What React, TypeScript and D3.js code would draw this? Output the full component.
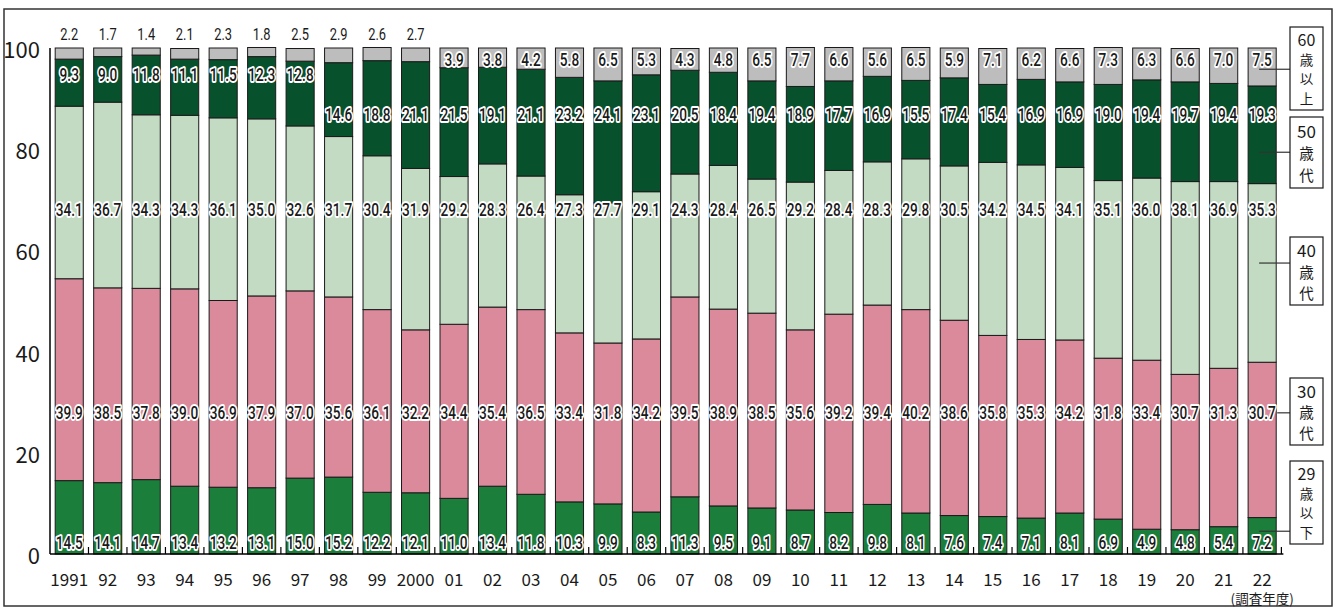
import React from 'react';
import * as d3 from 'd3';

// ---------------- data ----------------
const years = ['1991', '92', '93', '94', '95', '96', '97', '98', '99', '2000', '01', '02', '03', '04', '05', '06', '07', '08', '09', '10', '11', '12', '13', '14', '15', '16', '17', '18', '19', '20', '21', '22'];
const under29 = [14.5, 14.1, 14.7, 13.4, 13.2, 13.1, 15.0, 15.2, 12.2, 12.1, 11.0, 13.4, 11.8, 10.3, 9.9, 8.3, 11.3, 9.5, 9.1, 8.7, 8.2, 9.8, 8.1, 7.6, 7.4, 7.1, 8.1, 6.9, 4.9, 4.8, 5.4, 7.2];
const age30s = [39.9, 38.5, 37.8, 39.0, 36.9, 37.9, 37.0, 35.6, 36.1, 32.2, 34.4, 35.4, 36.5, 33.4, 31.8, 34.2, 39.5, 38.9, 38.5, 35.6, 39.2, 39.4, 40.2, 38.6, 35.8, 35.3, 34.2, 31.8, 33.4, 30.7, 31.3, 30.7];
const age40s = [34.1, 36.7, 34.3, 34.3, 36.1, 35.0, 32.6, 31.7, 30.4, 31.9, 29.2, 28.3, 26.4, 27.3, 27.7, 29.1, 24.3, 28.4, 26.5, 29.2, 28.4, 28.3, 29.8, 30.5, 34.2, 34.5, 34.1, 35.1, 36.0, 38.1, 36.9, 35.3];
const age50s = [9.3, 9.0, 11.8, 11.1, 11.5, 12.3, 12.8, 14.6, 18.8, 21.1, 21.5, 19.1, 21.1, 23.2, 24.1, 23.1, 20.5, 18.4, 19.4, 18.9, 17.7, 16.9, 15.5, 17.4, 15.4, 16.9, 16.9, 19.0, 19.4, 19.7, 19.4, 19.3];
const over60 = [2.2, 1.7, 1.4, 2.1, 2.3, 1.8, 2.5, 2.9, 2.6, 2.7, 3.9, 3.8, 4.2, 5.8, 6.5, 5.3, 4.3, 4.8, 6.5, 7.7, 6.6, 5.6, 6.5, 5.9, 7.1, 6.2, 6.6, 7.3, 6.3, 6.6, 7.0, 7.5];
const seriesKeys = ['u29', 'a30', 'a40', 'a50', 'o60'];
const seriesNames = ['29歳以下', '30歳代', '40歳代', '50歳代', '60歳以上'];
const legendLabels = [
  ['29', '歳', '以', '下'],
  ['30', '歳', '代'],
  ['40', '歳', '代'],
  ['50', '歳', '代'],
  ['60', '歳', '以', '上'],
];
const yTicks = [0, 20, 40, 60, 80, 100];
const xAxisTitle = '(調査年度)';

// ---------------- layout / style ----------------
const W = 1336;
const H = 610;
const colors = ['#1b7f3b', '#db8a9c', '#c3dbc3', '#07522c', '#bdbdbd'];
const labelFont = 'Roboto, "Liberation Sans", sans-serif';
const sans = '"Noto Sans CJK JP", "Noto Sans", sans-serif';

// label rows (in value units) per series
const rowU29 = 2.2;
const row30 = 27.9;
const row40 = 68.0;
const row50Early = 94.7;
const row50Late = 86.8;
const row60Inside = 97.6;
const row60Above = 102.6;

// legend boxes (pixel layout) and leader-line y (value units)
const legendBoxes = [
  { top: 461, bottom: 544, lead: 4.5 },
  { top: 378, bottom: 445, lead: 27.9 },
  { top: 237, bottom: 305, lead: 57.5 },
  { top: 117, bottom: 188, lead: 79.4 },
  { top: 27, bottom: 110, lead: 95.8 },
];

export default function App() {
  const table = years.map((yr, i) => ({
    year: yr,
    u29: under29[i],
    a30: age30s[i],
    a40: age40s[i],
    a50: age50s[i],
    o60: over60[i],
  }));
  const stacked = d3.stack<any>().keys(seriesKeys)(table);

  const x = d3.scaleBand<string>().domain(years).range([50, 1281.4]).paddingInner(0.27).paddingOuter(0.135);
  const y = d3.scaleLinear().domain([0, 100]).range([554, 48]);
  const step = x.step();
  const bw = x.bandwidth();
  const x0 = x.range()[0];

  const labelRow = (si: number, i: number) => {
    if (si === 0) return rowU29;
    if (si === 1) return row30;
    if (si === 2) return row40;
    if (si === 3) return i <= 6 ? row50Early : row50Late;
    return i <= 9 ? row60Above : row60Inside;
  };

  const lastYear = years[years.length - 1];
  const lastX = x(lastYear)!;

  return (
    <svg width={W} height={H} style={{ position: 'absolute', left: 0, top: 0, background: '#fff' }}>
      {/* frame */}
      <rect x={4} y={9} width={1328} height={597} fill="none" stroke="#333" strokeWidth={1.5} />

      {/* bars */}
      {stacked.map((s, si) => (
        <g key={seriesKeys[si]}>
          {s.map((d, i) => (
            <rect
              key={years[i]}
              x={x(years[i])}
              y={y(d[1])}
              width={bw}
              height={y(d[0]) - y(d[1])}
              fill={colors[si]}
              stroke="#1a1a1a"
              strokeWidth={1}
            />
          ))}
        </g>
      ))}

      {/* value labels */}
      {stacked.map((s, si) => (
        <g key={'lab' + seriesKeys[si]}>
          {s.map((d, i) => {
            const v = (d[1] - d[0]).toFixed(1);
            const cx = x(years[i])! + bw / 2;
            const cy = y(labelRow(si, i));
            const above = si === 4 && i <= 9;
            return (
              <text
                key={years[i]}
                transform={`translate(${cx},${cy}) scale(0.78,1)`}
                x={0}
                y={0}
                fontFamily={labelFont}
                fontSize={above ? 16.5 : 17.5}
                fontWeight={above ? 400 : 500}
                fill="#1a1a1a"
                stroke={above ? 'none' : '#ffffff'}
                strokeWidth={above ? 0 : 3.8}
                strokeLinejoin="round"
                paintOrder="stroke"
                textAnchor="middle"
                dominantBaseline="central"
              >
                {v}
              </text>
            );
          })}
        </g>
      ))}

      {/* y axis */}
      <line x1={x0} x2={x0} y1={y(100)} y2={y(0)} stroke="#000" strokeWidth={1.5} />
      {yTicks.map((t) => (
        <text key={t} x={40} y={y(t)} textAnchor="end" dominantBaseline="central" fontFamily={sans} fontSize={22} fill="#1a1a1a">
          {t}
        </text>
      ))}

      {/* x axis */}
      <line x1={x0} x2={x0 + step * years.length + 2} y1={y(0)} y2={y(0)} stroke="#000" strokeWidth={1.5} />
      {years.map((yr, i) => (
        <line key={'t' + yr} x1={x0 + step * (i + 1)} x2={x0 + step * (i + 1)} y1={y(0)} y2={y(0) - 7} stroke="#000" strokeWidth={1.2} />
      ))}
      {years.map((yr) => (
        <text key={'xl' + yr} x={x(yr)! + bw / 2} y={578} textAnchor="middle" dominantBaseline="central" fontFamily={sans} fontSize={17} fill="#1a1a1a">
          {yr}
        </text>
      ))}
      <text x={lastX + bw / 2} y={598} textAnchor="middle" dominantBaseline="central" fontFamily={sans} fontSize={13.5} fill="#1a1a1a">
        {xAxisTitle}
      </text>

      {/* legend */}
      {legendBoxes.map((b, li) => {
        const lines = legendLabels[li];
        const bx = 1290;
        const bwid = 33;
        const h = b.bottom - b.top;
        const startX = li === 1 ? lastX + bw + 1 : lastX + 11;
        const four = lines.length === 4;
        return (
          <g key={seriesNames[li]}>
            <line x1={startX} x2={bx} y1={y(b.lead)} y2={y(b.lead)} stroke="#333" strokeWidth={1.2} />
            <rect x={bx} y={b.top} width={bwid} height={h} fill="#fff" stroke="#1a1a1a" strokeWidth={1.2} />
            {lines.map((ln, k) => (
              <text
                key={k}
                x={bx + bwid / 2}
                y={b.top + 2 + ((h - 4) * (k + 0.5)) / lines.length}
                textAnchor="middle"
                dominantBaseline="central"
                fontFamily={sans}
                fontSize={k === 0 ? (four ? 16 : 17) : four ? 13.5 : 14.5}
                fill="#1a1a1a"
              >
                {ln}
              </text>
            ))}
          </g>
        );
      })}
    </svg>
  );
}
